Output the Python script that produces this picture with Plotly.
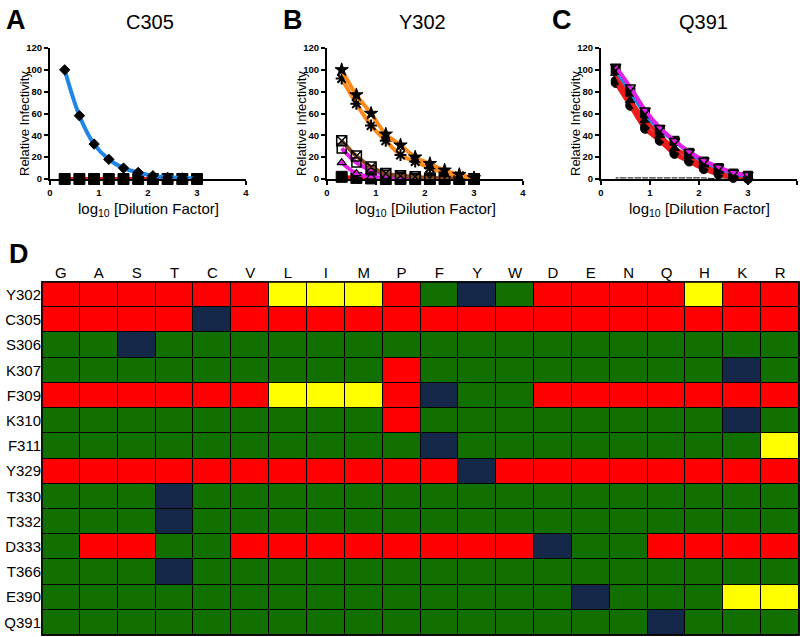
import plotly.graph_objects as go

# ---------------- data ----------------
x_dil = [0.3, 0.6, 0.9, 1.2, 1.5, 1.8, 2.1, 2.4, 2.7, 3.0]

# Panel A (C305)
A_wt = [100, 58, 32, 18, 10, 6, 3, 1.5, 1, 0.5]
A_mut = [0, 0, 0, 0, 0, 0, 0, 0, 0, 0]

# Panel B (Y302)
B_star = [100, 77, 60, 41, 31, 20, 14, 8, 4, 1]
B_ast = [92, 69, 49, 35, 22, 16, 10, 6, 3, 1]
B_sqx = [35, 21, 11, 5, 3, 2, 1, 1, 0.5, 0]
B_sqo = [28, 15, 8, 4, 2, 1, 0.5, 0, 0, 0]
B_tri = [15, 5, 2, 1, 0.5, 0, 0, 0, 0, 0]
B_mut = [2, 1, 0.5, 0, 0, 0, 0, 0, 0, 0]

# Panel C (Q391)
C_mag = [103, 84, 63, 47, 35, 25, 17, 11, 6, 4]
C_blue = [100, 80, 60, 45, 35, 24, 16, 10, 5, 3]
C_red1 = [97, 72, 54, 40, 28, 21, 13, 7, 3, 2]
C_red2 = [90, 68, 48, 36, 24, 17, 10, 5, 2, 1]
C_red3 = [88, 67, 46, 35, 23, 16, 9, 4, 1, 0]
C_null = [1, 1, 1, 1, 1, 1, 1, 0, 0, 0]

# Panel D heatmap: 0 = green, 1 = red, 2 = yellow, 3 = wild type (navy)
col_labels = ["G", "A", "S", "T", "C", "V", "L", "I", "M", "P",
              "F", "Y", "W", "D", "E", "N", "Q", "H", "K", "R"]
row_labels = ["Y302", "C305", "S306", "K307", "F309", "K310", "F311",
              "Y329", "T330", "T332", "D333", "T366", "E390", "Q391"]
r_Y302 = [1, 1, 1, 1, 1, 1, 2, 2, 2, 1, 0, 3, 0, 1, 1, 1, 1, 2, 1, 1]
r_C305 = [1, 1, 1, 1, 3, 1, 1, 1, 1, 1, 1, 1, 1, 1, 1, 1, 1, 1, 1, 1]
r_S306 = [0, 0, 3, 0, 0, 0, 0, 0, 0, 0, 0, 0, 0, 0, 0, 0, 0, 0, 0, 0]
r_K307 = [0, 0, 0, 0, 0, 0, 0, 0, 0, 1, 0, 0, 0, 0, 0, 0, 0, 0, 3, 0]
r_F309 = [1, 1, 1, 1, 1, 1, 2, 2, 2, 1, 3, 0, 0, 1, 1, 1, 1, 1, 1, 1]
r_K310 = [0, 0, 0, 0, 0, 0, 0, 0, 0, 1, 0, 0, 0, 0, 0, 0, 0, 0, 3, 0]
r_F311 = [0, 0, 0, 0, 0, 0, 0, 0, 0, 0, 3, 0, 0, 0, 0, 0, 0, 0, 0, 2]
r_Y329 = [1, 1, 1, 1, 1, 1, 1, 1, 1, 1, 1, 3, 1, 1, 1, 1, 1, 1, 1, 1]
r_T330 = [0, 0, 0, 3, 0, 0, 0, 0, 0, 0, 0, 0, 0, 0, 0, 0, 0, 0, 0, 0]
r_T332 = [0, 0, 0, 3, 0, 0, 0, 0, 0, 0, 0, 0, 0, 0, 0, 0, 0, 0, 0, 0]
r_D333 = [0, 1, 1, 0, 0, 1, 1, 1, 1, 1, 1, 1, 1, 3, 0, 0, 1, 1, 1, 1]
r_T366 = [0, 0, 0, 3, 0, 0, 0, 0, 0, 0, 0, 0, 0, 0, 0, 0, 0, 0, 0, 0]
r_E390 = [0, 0, 0, 0, 0, 0, 0, 0, 0, 0, 0, 0, 0, 0, 3, 0, 0, 0, 2, 2]
r_Q391 = [0, 0, 0, 0, 0, 0, 0, 0, 0, 0, 0, 0, 0, 0, 0, 0, 3, 0, 0, 0]

x_ticks = [0, 1, 2, 3, 4]
y_ticks = [0, 20, 40, 60, 80, 100, 120]

# ---------------- style ----------------
FONT = "Liberation Sans, Arial, sans-serif"
BLUE = "#1f86e6"
RED = "#ee1b1b"
ORANGE = "#ff8a1c"
BROWN = "#8a4a22"
MAGENTA = "#e21fe6"
GREEN = "#117000"
RED_H = "#ff0000"
YELLOW = "#ffff00"
NAVY = "#16284a"

fig = go.Figure()


def curve(y, color, symbol, axis, msize=8, lw=4, mcolor="black", mline=1):
    fig.add_trace(go.Scatter(
        x=x_dil, y=y, mode="lines+markers",
        line=dict(color=color, width=lw, shape="spline", smoothing=1),
        marker=dict(symbol=symbol, size=msize, color=mcolor,
                    line=dict(color="black", width=mline)),
        xaxis="x" + axis, yaxis="y" + axis, showlegend=False, cliponaxis=False))


# Panel A
curve(A_mut, RED, "square", "", msize=11)
curve(A_wt, BLUE, "diamond", "", msize=8)

# Panel B
curve(B_mut, RED, "square", "2", msize=11)
curve(B_tri, MAGENTA, "triangle-up", "2", msize=8, mcolor=MAGENTA, mline=1.2)
curve(B_sqo, MAGENTA, "square-open", "2", msize=9, mline=1.5)
curve(B_sqx, BROWN, "square-x-open", "2", msize=10, mline=1.5)
curve(B_ast, ORANGE, "asterisk-open", "2", msize=10, mline=2)
curve(B_star, ORANGE, "star", "2", msize=10)

# Panel C
curve(C_null, "black", "circle-open", "3", msize=7, lw=1, mcolor="white", mline=1.2)
curve(C_red3, RED, "circle", "3", msize=9)
curve(C_red2, RED, "circle", "3", msize=9)
curve(C_red1, RED, "triangle-up", "3", msize=9)
curve(C_blue, BLUE, "square", "3", msize=9)
curve(C_mag, MAGENTA, "triangle-down-open", "3", msize=9, mline=1.5)

# Panel D heatmap
z = [r_Y302, r_C305, r_S306, r_K307, r_F309, r_K310, r_F311,
     r_Y329, r_T330, r_T332, r_D333, r_T366, r_E390, r_Q391]
fig.add_trace(go.Heatmap(
    z=z, x=list(range(len(col_labels))), y=list(range(len(row_labels))),
    zmin=0, zmax=3, showscale=False, xgap=1, ygap=1, hoverinfo="skip",
    colorscale=[[0, GREEN], [0.1667, GREEN], [0.1667, RED_H], [0.5, RED_H],
                [0.5, YELLOW], [0.8333, YELLOW], [0.8333, NAVY], [1, NAVY]],
    xaxis="x4", yaxis="y4"))

H = 637.0
y_top, y_bot = 1 - 48 / H, 1 - 179 / H
x_doms = [[50 / 800, 246 / 800], [327 / 800, 523 / 800], [601 / 800, 797 / 800]]

axis_common = dict(range=[0, 4], tickvals=x_ticks, showgrid=False, zeroline=False,
                   showline=True, linecolor="black", linewidth=2, ticks="outside",
                   ticklen=4, tickwidth=2, tickcolor="black", automargin=False,
                   tickfont=dict(family=FONT, size=9.5, color="black", weight="bold"))
yaxis_common = dict(range=[0, 120], tickvals=y_ticks, showgrid=False, zeroline=False,
                    showline=True, linecolor="black", linewidth=2, ticks="outside",
                    ticklen=4, tickwidth=2, tickcolor="black", automargin=False,
                    tickfont=dict(family=FONT, size=9.5, color="black", weight="bold"))

layout = dict(width=800, height=637, margin=dict(l=0, r=0, t=0, b=0, pad=0),
              paper_bgcolor="white", plot_bgcolor="white",
              font=dict(family=FONT, color="black"))
suffixes = ["", "2", "3"]
for i, s in enumerate(suffixes):
    layout["xaxis" + s] = dict(domain=x_doms[i], anchor="y" + s, **axis_common)
    layout["yaxis" + s] = dict(domain=[y_bot, y_top], anchor="x" + s, **yaxis_common)

layout["xaxis4"] = dict(domain=[42 / 800, 799 / 800], anchor="y4", side="top",
                        range=[-0.5, len(col_labels) - 0.5], automargin=False,
                        tickvals=list(range(len(col_labels))), ticktext=col_labels,
                        showgrid=False, zeroline=False, ticks="", showline=False,
                        tickfont=dict(family=FONT, size=15, color="black"))
layout["yaxis4"] = dict(domain=[1 - 635 / H, 1 - 282 / H], anchor="x4",
                        range=[len(row_labels) - 0.5, -0.5], automargin=False,
                        tickvals=list(range(len(row_labels))), ticktext=row_labels,
                        showgrid=False, zeroline=False, ticks="", showline=False,
                        tickfont=dict(family=FONT, size=15, color="black"))
fig.update_layout(**layout)

# black background behind heatmap cells -> grid lines
fig.add_shape(type="rect", xref="x4 domain", yref="y4 domain", x0=0, x1=1, y0=0, y1=1,
              fillcolor="black", line=dict(color="black", width=1.5), layer="below")
fig.add_shape(type="rect", xref="x4 domain", yref="y4 domain", x0=0, x1=1, y0=0, y1=1,
              fillcolor="rgba(0,0,0,0)", line=dict(color="black", width=1.5), layer="above")

ann = []


def label(text, px, py, size, angle=0):
    ann.append(dict(text=text, x=px / 800, y=1 - py / H, xref="paper", yref="paper",
                    xanchor="center", yanchor="middle", showarrow=False, textangle=angle,
                    font=dict(size=size, family=FONT, color="black")))


for t, px in [("A", 16), ("B", 293), ("C", 562)]:
    label("<b>%s</b>" % t, px, 20, 27)
label("<b>D</b>", 19, 254, 27)
for t, px in [("C305", 150), ("Y302", 422), ("Q391", 703)]:
    label(t, px, 22, 20)
for i in range(3):
    xc = (x_doms[i][0] + x_doms[i][1]) / 2 * 800
    label("log<sub>10</sub> [Dilution Factor]", xc, 210, 15)
    label("Relative Infectivity", x_doms[i][0] * 800 - 25, 124, 13)
fig.update_layout(annotations=ann)
for a in fig.layout.annotations:
    if a.text == "Relative Infectivity":
        a.textangle = -90

fig.write_html("out.html", config={"displayModeBar": False},
               post_script="document.body.style.margin='0';")
